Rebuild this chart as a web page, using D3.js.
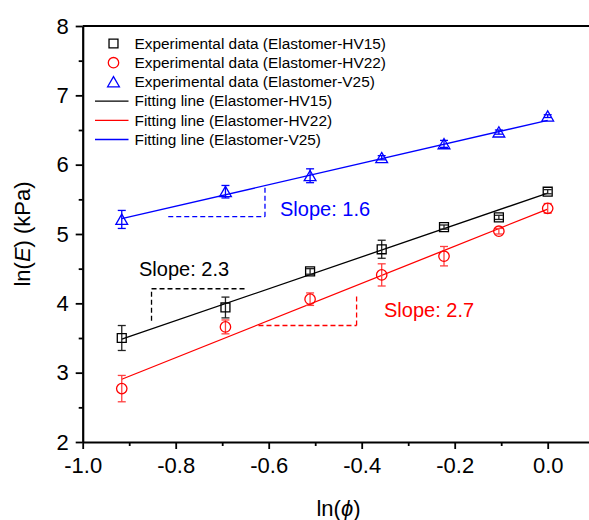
<!DOCTYPE html>
<html>
<head>
<meta charset="utf-8">
<script src="https://d3js.org/d3.v7.min.js"></script>
<style>
  html, body { margin: 0; padding: 0; background: #fff; }
  svg { display: block; font-family: Arial, "Liberation Sans", sans-serif; }
</style>
</head>
<body>
<svg id="chart" width="589" height="520"></svg>
<script>
// ── data ───────────────────────────────────────────────
const lnPhi = [-0.916, -0.693, -0.511, -0.357, -0.223, -0.105, 0];

const hv15Val = [3.50, 3.94, 4.46, 4.78, 5.10, 5.24, 5.61];
const hv15Err = [0.18, 0.15, 0.04, 0.13, 0.03, 0.03, 0.03];
const hv22Val = [2.77, 3.66, 4.06, 4.41, 4.68, 5.04, 5.37];
const hv22Err = [0.19, 0.10, 0.09, 0.16, 0.14, 0.04, 0.07];
const v25Val  = [5.21, 5.61, 5.84, 6.10, 6.30, 6.47, 6.70];
const v25Err  = [0.13, 0.09, 0.10, 0.03, 0.05, 0.03, 0.02];

const fitSlope     = [2.30, 2.68, 1.55];
const fitIntercept = [5.59, 5.36, 6.64];

// slope triangles: [xLeft, xRight, yLow, yHigh]
const triBlue  = [-0.816, -0.608, 5.25, 5.68];
const triBlack = [-0.852, -0.651, 3.75, 4.21];
const triRed   = [-0.622, -0.411, 3.68, 4.10];

const seriesNames = ['Elastomer-HV15', 'Elastomer-HV22', 'Elastomer-V25'];
const slopeLabels = ['Slope: 2.3', 'Slope: 2.7', 'Slope: 1.6'];
const xTicks = [-1.0, -0.8, -0.6, -0.4, -0.2, 0.0];
const yTicks = [2, 3, 4, 5, 6, 7, 8];

// ── layout ─────────────────────────────────────────────
const svg = d3.select('#chart');
const L = 82.7, R = 594.2, T = 26, B = 442;
const x = d3.scaleLinear().domain([-1.0, 0.1]).range([L, R]);
const y = d3.scaleLinear().domain([2, 8]).range([B, T]);

const colors = ['#000000', '#ff0000', '#0000ff'];
const errColors = ['#222222', '#ff4040', '#0000ff'];
const vals = [hv15Val, hv22Val, v25Val];
const errs = [hv15Err, hv22Err, v25Err];

// axes
const xAxis = svg.append('g').attr('transform', `translate(0,${B})`)
  .call(d3.axisBottom(x).tickValues(xTicks).tickFormat(d => d.toFixed(1)).tickSizeOuter(0).tickSizeInner(7).tickPadding(8));
svg.append('g').attr('transform', `translate(0,${B})`)
  .call(d3.axisBottom(x).tickValues(d3.range(-0.9, 0.1, 0.2)).tickFormat('').tickSizeOuter(0).tickSizeInner(4))
  .call(g => g.select('.domain').remove());
const yAxis = svg.append('g').attr('transform', `translate(${L},0)`)
  .call(d3.axisLeft(y).tickValues(yTicks).tickFormat(d3.format('d')).tickSizeOuter(0).tickSizeInner(7).tickPadding(7));
svg.append('g').attr('transform', `translate(${L},0)`)
  .call(d3.axisLeft(y).tickValues(d3.range(2.5, 8, 1)).tickFormat('').tickSizeOuter(0).tickSizeInner(4))
  .call(g => g.select('.domain').remove());

svg.selectAll('.domain').attr('stroke-width', 2.2);
svg.selectAll('.tick line').attr('stroke-width', 1.8);
xAxis.selectAll('text').attr('font-size', 22).attr('fill', '#000').attr('font-family', 'Arial, "Liberation Sans", sans-serif');
yAxis.selectAll('text').attr('font-size', 22).attr('fill', '#000').attr('font-family', 'Arial, "Liberation Sans", sans-serif');

// top frame line
svg.append('line').attr('x1', L).attr('x2', R).attr('y1', T).attr('y2', T)
  .attr('stroke', '#000').attr('stroke-width', 2.2);

// axis titles
svg.append('text').attr('x', (L + R) / 2).attr('y', 516)
  .attr('text-anchor', 'middle').attr('font-size', 22)
  .html('ln(<tspan font-style="italic">ϕ</tspan>)');
svg.append('text').attr('transform', `translate(30,${(T + B) / 2}) rotate(-90)`)
  .attr('text-anchor', 'middle').attr('font-size', 22)
  .html('ln(<tspan font-style="italic">E</tspan>) (kPa)');

// slope triangles (dashed)
function slopeTri(t, color, vertAtLeft) {
  const vx = vertAtLeft ? t[0] : t[1];
  const hy = vertAtLeft ? t[3] : t[2];
  const g = svg.append('g').attr('stroke', color).attr('stroke-width', 1.3).attr('stroke-dasharray', '5,3');
  g.append('line').attr('x1', x(t[0])).attr('x2', x(t[1])).attr('y1', y(hy)).attr('y2', y(hy));
  g.append('line').attr('x1', x(vx)).attr('x2', x(vx)).attr('y1', y(t[2])).attr('y2', y(t[3]));
}
slopeTri(triBlue, colors[2], false);
slopeTri(triBlack, colors[0], true);
slopeTri(triRed, colors[1], false);

// fitting lines
[0, 1, 2].forEach(i => {
  const x0 = lnPhi[0], x1 = lnPhi[lnPhi.length - 1];
  svg.append('line')
    .attr('x1', x(x0)).attr('y1', y(fitIntercept[i] + fitSlope[i] * x0))
    .attr('x2', x(x1)).attr('y2', y(fitIntercept[i] + fitSlope[i] * x1))
    .attr('stroke', colors[i]).attr('stroke-width', 1.3);
});

// error bars + markers
const sym = [d3.symbolSquare, d3.symbolCircle, d3.symbolTriangle];
const symSize = [80, 85, 60];
[0, 1, 2].forEach(i => {
  const g = svg.append('g');
  lnPhi.forEach((px, k) => {
    const cx = x(px), v = vals[i][k], e = errs[i][k];
    g.append('line').attr('x1', cx).attr('x2', cx).attr('y1', y(v - e)).attr('y2', y(v + e))
      .attr('stroke', errColors[i]).attr('stroke-width', 1.3);
    [v - e, v + e].forEach(ev => {
      g.append('line').attr('x1', cx - 4).attr('x2', cx + 4).attr('y1', y(ev)).attr('y2', y(ev))
        .attr('stroke', errColors[i]).attr('stroke-width', 1.3);
    });
    g.append('path').attr('d', d3.symbol(sym[i], symSize[i])())
      .attr('transform', `translate(${cx},${y(v) + (i === 2 ? 1.5 : 0)})`)
      .attr('fill', 'none').attr('stroke', colors[i]).attr('stroke-width', 1.3);
  });
});

// slope labels
svg.append('text').attr('x', 280).attr('y', 216).attr('font-size', 20).attr('fill', colors[2]).text(slopeLabels[2]);
svg.append('text').attr('x', 139).attr('y', 276).attr('font-size', 20).attr('fill', colors[0]).text(slopeLabels[0]);
svg.append('text').attr('x', 384).attr('y', 317).attr('font-size', 20).attr('fill', colors[1]).text(slopeLabels[1]);

// legend
const leg = svg.append('g');
const rowH = 19.2, leg0 = 43.5;
const legRows = [];
seriesNames.forEach((n, i) => legRows.push({ kind: 'sym', i, label: `Experimental data (${n})` }));
seriesNames.forEach((n, i) => legRows.push({ kind: 'line', i, label: `Fitting line (${n})` }));
legRows.forEach((r, k) => {
  const cy = leg0 + k * rowH;
  if (r.kind === 'sym') {
    leg.append('path').attr('d', d3.symbol(sym[r.i], symSize[r.i])())
      .attr('transform', `translate(113.5,${cy + (r.i === 2 ? 1.5 : 0)})`)
      .attr('fill', 'none').attr('stroke', colors[r.i]).attr('stroke-width', 1.3);
  } else {
    leg.append('line').attr('x1', 95).attr('x2', 128.5).attr('y1', cy).attr('y2', cy)
      .attr('stroke', colors[r.i]).attr('stroke-width', 1.3);
  }
  leg.append('text').attr('x', 134.5).attr('y', cy).attr('dy', '0.35em')
    .attr('font-size', 15.4).attr('fill', '#000').text(r.label);
});
</script>
</body>
</html>
